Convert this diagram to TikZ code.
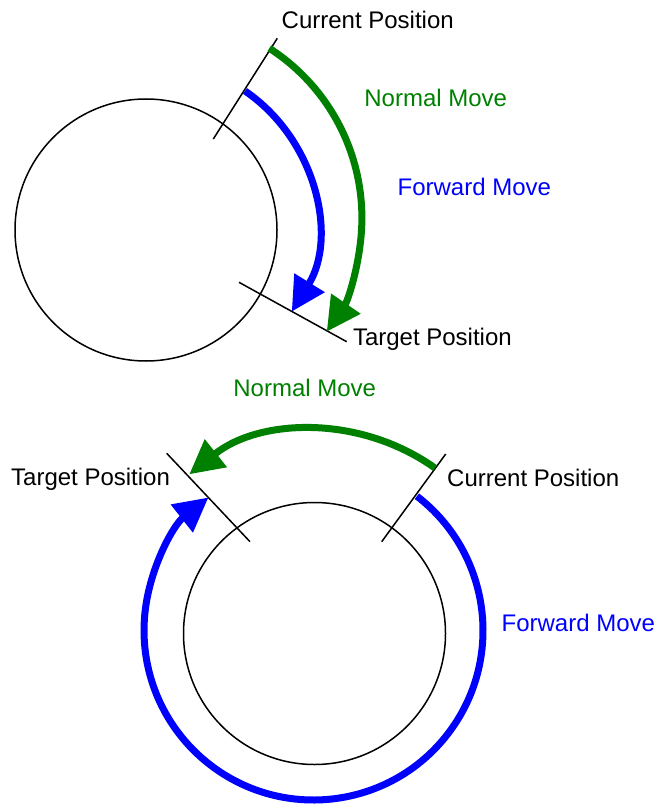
\documentclass[tikz,border=0pt]{standalone}
\usepackage{fontspec}
\setmainfont{Liberation Sans}
\usetikzlibrary{arrows.meta}
\definecolor{mvgreen}{RGB}{0,128,0}
\definecolor{mvblue}{RGB}{0,0,255}
\begin{document}
\begin{tikzpicture}[x=1pt,y=-1pt,
  lbl/.style={anchor=base west, inner sep=0pt, font=\fontsize{24}{28}\selectfont},
  disc/.style={draw=black, line width=1.5pt},
  tickline/.style={draw=black, line width=1.5pt},
  move/.style={line width=7pt, -{Triangle[length=34pt,width=34pt]}}]
\useasboundingbox (0,0) rectangle (657,805);

% ---------- top diagram ----------
\coordinate (c1) at (146,230);
\draw[disc] (c1) circle[radius=131];
\coordinate (t1a) at (277.3,38.3);
\coordinate (t1b) at (213.3,139);
\draw[tickline] (t1a) -- (t1b);
\coordinate (t2a) at (239,282.3);
\coordinate (t2b) at (346.7,341.7);
\draw[tickline] (t2a) -- (t2b);

\coordinate (g1c) at (160.2,217.9);
\draw[move, mvgreen] (g1c) ++(-57.25:201.7) arc[start angle=-57.25, end angle=34.35, radius=201.7];
\coordinate (b1c) at (152.7,225.8);
\draw[move, mvblue] (b1c) ++(-55.6:163.4) arc[start angle=-55.6, end angle=31.7, radius=163.4];

\node[lbl] (cur1) at (281.5,28.3) {Current Position};
\node[lbl] (tar1) at (352.8,345) {Target Position};
\node[lbl, text=mvgreen] (nm1) at (364.2,106.7) {Normal Move};
\node[lbl, text=mvblue] (fm1) at (397.4,195) {Forward Move};

% ---------- bottom diagram ----------
\coordinate (c2) at (314.5,633.5);
\draw[disc] (c2) circle[radius=131];
\coordinate (t3a) at (166.7,453.3);
\coordinate (t3b) at (250,541.7);
\draw[tickline] (t3a) -- (t3b);
\coordinate (t4a) at (445.7,454);
\coordinate (t4b) at (381.7,541.7);
\draw[tickline] (t4a) -- (t4b);

\coordinate (g2c) at (316.3,634.2);
\draw[move, mvgreen] (g2c) ++(-54.46:204.2) arc[start angle=-54.46, end angle=-128.46, radius=204.2];
\coordinate (b2c) at (313.5,630.5);
\draw[move, mvblue] (b2c) ++(-52.4:169.5) arc[start angle=-52.4, end angle=231.7, radius=169.5];

\node[lbl, text=mvgreen] (nm2) at (233.2,396) {Normal Move};
\node[lbl] (tar2) at (11,485) {Target Position};
\node[lbl] (cur2) at (447,486) {Current Position};
\node[lbl, text=mvblue] (fm2) at (501.4,631.7) {Forward Move};
\end{tikzpicture}
\end{document}
